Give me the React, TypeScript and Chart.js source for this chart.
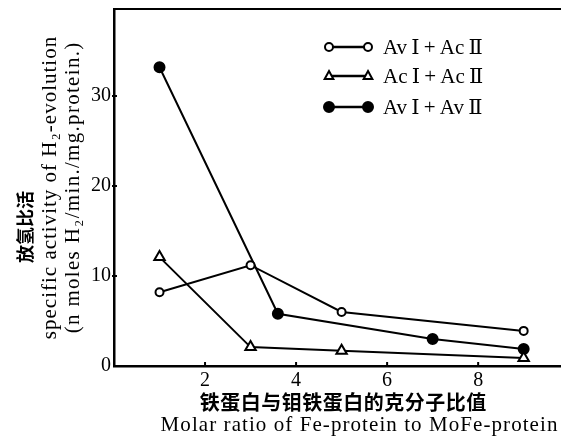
import React, { useEffect, useRef } from "react";
import { Chart, registerables } from "chart.js";

Chart.register(...registerables);

// ---- data ----
const seriesNames = ["Av\u2009Ⅰ\u2009+\u2009Ac\u2009Ⅱ", "Ac\u2009Ⅰ\u2009+\u2009Ac\u2009Ⅱ", "Av\u2009Ⅰ\u2009+\u2009Av\u2009Ⅱ"];
const openCircleX = [1, 3, 5, 9];
const openCircleY = [8.2, 11.2, 6.0, 3.9];
const triangleX = [1, 3, 5, 9];
const triangleY = [12.1, 2.1, 1.7, 0.9];
const filledCircleX = [1, 3.6, 7, 9];
const filledCircleY = [33.2, 5.8, 3.0, 1.9];
const xTickValues = [2, 4, 6, 8];
const yTickValues = [0, 10, 20, 30];
const yTitleZh = "放氢比活";
const yTitleEn1 = "specific activity of H₂-evolution";
const yTitleEn2 = "(n moles H₂/min./mg.protein.)";
const xTitleZh = "铁蛋白与钼铁蛋白的克分子比值";
const xTitleEn = "Molar ratio of Fe-protein to MoFe-protein";

const SERIF = "'Liberation Serif', 'DejaVu Serif', serif";
const CJK = "'Noto Sans CJK SC', sans-serif";

const toPoints = (xs: number[], ys: number[]) => xs.map((x, i) => ({ x, y: ys[i] }));

const markerStyles = [
  { style: "circle", radius: 4, fill: "#fff" },
  { style: "triangle", radius: 5, fill: "#fff" },
  { style: "circle", radius: 5, fill: "#000" },
];

function drawMarker(ctx: CanvasRenderingContext2D, kind: number, x: number, y: number) {
  const m = markerStyles[kind];
  ctx.save();
  ctx.lineWidth = 2;
  ctx.strokeStyle = "#000";
  ctx.fillStyle = m.fill;
  ctx.beginPath();
  if (m.style === "circle") {
    ctx.arc(x, y, m.radius, 0, Math.PI * 2);
  } else {
    const r = m.radius;
    ctx.moveTo(x, y - r);
    ctx.lineTo(x + r * 0.87, y + r * 0.6);
    ctx.lineTo(x - r * 0.87, y + r * 0.6);
    ctx.closePath();
  }
  ctx.fill();
  ctx.stroke();
  ctx.restore();
}

function spacedText(ctx: any, text: string, x: number, y: number, spacing: number) {
  ctx.letterSpacing = `${spacing}px`;
  ctx.fillText(text, x + spacing / 2, y);
  ctx.letterSpacing = "0px";
}

const decorPlugin = {
  id: "decor",
  afterDraw(chart: any) {
    const ctx: CanvasRenderingContext2D = chart.ctx;
    const { left, top, bottom } = chart.chartArea;
    const xs = chart.scales.x;
    const ys = chart.scales.y;
    ctx.save();
    ctx.strokeStyle = "#000";
    ctx.fillStyle = "#000";
    // top frame line
    ctx.lineWidth = 2;
    ctx.beginPath();
    ctx.moveTo(left - 1, top);
    ctx.lineTo(chart.width, top);
    ctx.stroke();
    // tick marks (pointing inward)
    ctx.lineWidth = 2;
    xTickValues.forEach((v) => {
      const px = xs.getPixelForValue(v);
      ctx.beginPath();
      ctx.moveTo(px, bottom);
      ctx.lineTo(px, bottom - 4);
      ctx.stroke();
    });
    yTickValues.forEach((v) => {
      if (v === 0) return;
      const py = ys.getPixelForValue(v);
      ctx.beginPath();
      ctx.moveTo(left - 2, py);
      ctx.lineTo(left + 3, py);
      ctx.stroke();
    });
    // legend
    const legendRows = [47, 76, 107];
    const lx1 = 329;
    const lx2 = 368;
    seriesNames.forEach((name, i) => {
      const y = legendRows[i];
      ctx.lineWidth = 2.5;
      ctx.beginPath();
      ctx.moveTo(lx1, y);
      ctx.lineTo(lx2, y);
      ctx.stroke();
      drawMarker(ctx, i, lx1, y);
      drawMarker(ctx, i, lx2, y);
      ctx.font = `21px ${SERIF}`;
      ctx.textAlign = "left";
      ctx.textBaseline = "middle";
      ctx.fillText(name, 383, y + 1);
    });
    // y title
    ctx.textAlign = "center";
    ctx.textBaseline = "middle";
    ctx.save();
    ctx.translate(25, 227);
    ctx.rotate(-Math.PI / 2);
    ctx.font = `bold 18px ${CJK}`;
    ctx.fillText(yTitleZh, 0, 0);
    ctx.restore();
    ctx.save();
    ctx.translate(50, 188);
    ctx.rotate(-Math.PI / 2);
    ctx.font = `21px ${SERIF}`;
    spacedText(ctx, yTitleEn1, 0, 0, 1.0);
    ctx.restore();
    ctx.save();
    ctx.translate(73, 188);
    ctx.rotate(-Math.PI / 2);
    ctx.font = `21px ${SERIF}`;
    spacedText(ctx, yTitleEn2, 0, 0, 1.3);
    ctx.restore();
    // x title
    ctx.font = `bold 20px ${CJK}`;
    spacedText(ctx, xTitleZh, 343, 402, 0.5);
    ctx.font = `21px ${SERIF}`;
    spacedText(ctx, xTitleEn, 359, 425, 1.07);
    ctx.restore();
  },
};

export default function App() {
  const canvasRef = useRef<HTMLCanvasElement | null>(null);

  useEffect(() => {
    const canvas = canvasRef.current;
    if (!canvas) return;
    const lineDs = (label: string, data: any[], kind: number) => {
      const m = markerStyles[kind];
      return {
        label,
        data,
        borderColor: "#000",
        borderWidth: 2,
        backgroundColor: m.fill,
        pointStyle: m.style,
        pointRadius: m.style === "triangle" ? 6 : m.radius,
        pointBorderWidth: 2,
        pointBorderColor: "#000",
        pointBackgroundColor: m.fill,
        tension: 0,
        fill: false,
        clip: false,
      };
    };
    const chart = new Chart(canvas, {
      type: "line",
      data: {
        datasets: [
          lineDs(seriesNames[0], toPoints(openCircleX, openCircleY), 0),
          lineDs(seriesNames[1], toPoints(triangleX, triangleY), 1),
          lineDs(seriesNames[2], toPoints(filledCircleX, filledCircleY), 2),
        ],
      },
      options: {
        responsive: false,
        animation: false,
        devicePixelRatio: 1,
        layout: { autoPadding: false, padding: { top: 9, right: 0, left: 0, bottom: 0 } },
        plugins: { legend: { display: false }, tooltip: { enabled: false } },
        scales: {
          x: {
            type: "linear",
            min: 0,
            max: 9.82,
            grid: { display: false, drawTicks: false },
            border: { display: true, color: "#000", width: 2.5 },
            afterBuildTicks: (scale: any) => {
              scale.ticks = xTickValues.map((v) => ({ value: v }));
            },
            afterFit: (scale: any) => {
              scale.height = 78;
              scale.paddingLeft = 0;
              scale.paddingRight = 0;
            },
            ticks: {
              color: "#000",
              padding: 3,
              maxRotation: 0,
              autoSkip: false,
              font: { family: SERIF, size: 20 },
            },
          },
          y: {
            type: "linear",
            min: 0,
            max: 39.67,
            grid: { display: false, drawTicks: false },
            border: { display: true, color: "#000", width: 2.5 },
            afterBuildTicks: (scale: any) => {
              scale.ticks = yTickValues.map((v) => ({ value: v }));
            },
            afterFit: (scale: any) => {
              scale.width = 114;
              scale.paddingTop = 0;
              scale.paddingBottom = 0;
            },
            ticks: {
              color: "#000",
              padding: 3,
              autoSkip: false,
              font: { family: SERIF, size: 20 },
            },
          },
        },
      },
      plugins: [decorPlugin],
    } as any);
    return () => chart.destroy();
  }, []);

  return (
    <div style={{ position: "fixed", left: 0, top: 0, width: 561, height: 444, background: "#fff" }}>
      <canvas ref={canvasRef} width={561} height={444} style={{ display: "block" }} />
    </div>
  );
}
